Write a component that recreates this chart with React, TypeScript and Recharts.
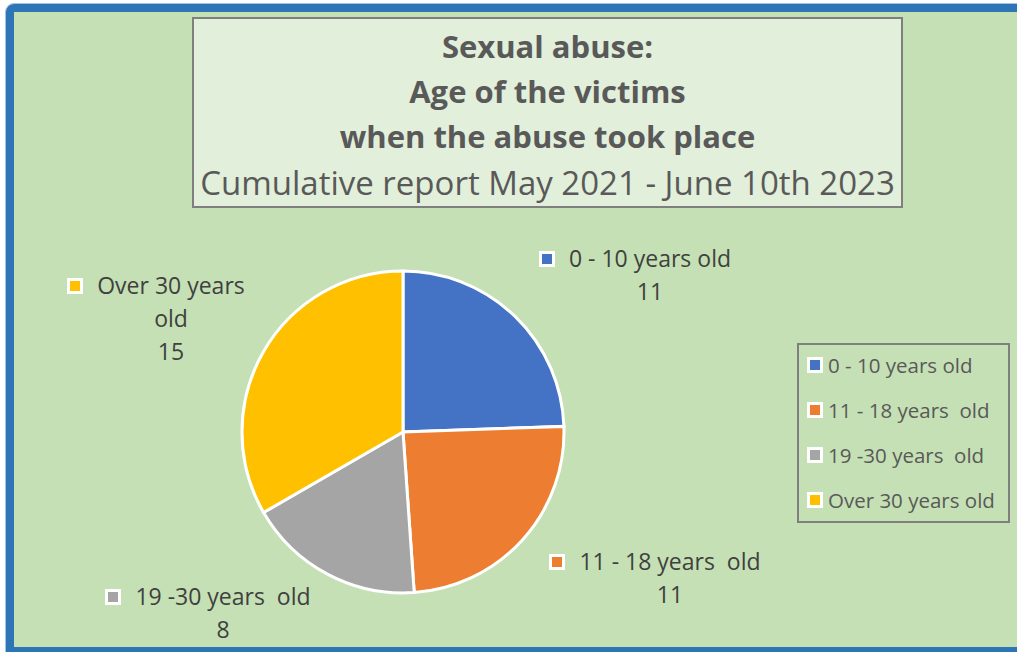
import React from "react";
import { PieChart, Pie, Cell, Legend } from "recharts";

const categories = ["0 - 10 years old", "11 - 18 years  old", "19 -30 years  old", "Over 30 years old"];
const values = [11, 11, 8, 15];
const colors = ["#4472c4", "#ed7d31", "#a5a5a5", "#ffc000"];
const labelLines = [["0 - 10 years old"], ["11 - 18 years  old"], ["19 -30 years  old"], ["Over 30 years", "old"]];
const titleBold = ["Sexual abuse:", "Age of the victims", "when the abuse took place"];
const subtitle = "Cumulative report May 2021 - June 10th 2023";

const data = categories.map((name, i) => ({ name, value: values[i] }));

// label placement (text-centre offset from pie centre, in px)
const labelLayout = [
  { dx: 247, dy: -174 },
  { dx: 267, dy: 129 },
  { dx: -180, dy: 164 },
  { dx: -232, dy: -147 },
];

const FONT = "'Open Sans', sans-serif";

const renderLabel = (props: any) => {
  const { cx, cy, index, value } = props;
  const lay = labelLayout[index];
  const w = 320;
  const lines = labelLines[index];
  const lh = 33;
  const h = lh * (lines.length + 1);
  const x = cx + lay.dx - w / 2;
  const y = cy + lay.dy - lh / 2;
  return (
    <foreignObject key={`lbl-${index}`} x={x} y={y} width={w} height={h} style={{ overflow: "visible" }}>
      <div
        style={{
          width: w,
          textAlign: "center",
          fontFamily: FONT,
          fontSize: 23,
          color: "#404040",
          lineHeight: `${lh}px`,
          whiteSpace: "pre",
        }}
      >
        {lines.map((ln, k) => (
          <div key={k}>
            <span style={{ position: "relative" }}>
              {k === 0 && (
                <span
                  style={{
                    position: "absolute",
                    left: -30,
                    top: "50%",
                    marginTop: -7,
                    width: 10,
                    height: 10,
                    border: "3px solid #fff",
                    background: colors[index],
                  }}
                />
              )}
              {ln}
            </span>
          </div>
        ))}
        <div>{value}</div>
      </div>
    </foreignObject>
  );
};

const renderLegend = (props: any) => {
  const payload = props.payload || [];
  return (
    <div
      style={{
        boxSizing: "border-box",
        width: 213,
        height: 180,
        border: "2px solid #7f7f7f",
        fontFamily: FONT,
        fontSize: 20.5,
        color: "#595959",
      }}
    >
      {payload.map((p: any, i: number) => (
        <div
          key={i}
          style={{
            position: "absolute",
            left: 10,
            top: 22 + i * 45 - 15,
            height: 30,
            display: "flex",
            alignItems: "center",
            whiteSpace: "pre",
          }}
        >
          <span
            style={{
              display: "inline-block",
              width: 10,
              height: 10,
              border: "3px solid #fff",
              background: p.color,
              marginRight: 5,
            }}
          />
          <span>{p.value}</span>
        </div>
      ))}
    </div>
  );
};

export default function App() {
  return (
    <div style={{ position: "fixed", left: 0, top: 0, width: 1017, height: 652, background: "#fff", overflow: "hidden" }}>
      <div
        style={{
          position: "absolute",
          left: 5,
          top: 3,
          width: 1040,
          height: 653,
          boxSizing: "border-box",
          border: "1px solid #9dc3e6",
          borderTopLeftRadius: 9,
        }}
      />
      <div
        style={{
          position: "absolute",
          left: 6,
          top: 4,
          width: 1040,
          height: 651,
          boxSizing: "border-box",
          border: "8px solid #2e75b6",
          borderTopLeftRadius: 8,
          background: "#c5e0b4",
        }}
      />
      <div
        style={{
          position: "absolute",
          left: 192,
          top: 17,
          width: 711,
          height: 191,
          boxSizing: "border-box",
          border: "2px solid #7f7f7f",
          background: "#e2efda",
          color: "#595959",
          fontFamily: FONT,
          textAlign: "center",
          paddingTop: 5,
        }}
      >
        {titleBold.map((t, i) => (
          <div key={i} style={{ fontWeight: 700, fontSize: 31, lineHeight: "45px" }}>
            {t}
          </div>
        ))}
        <div style={{ fontWeight: 400, fontSize: 33, lineHeight: "47px" }}>{subtitle}</div>
      </div>
      <div style={{ position: "absolute", left: 0, top: 0 }}>
        <PieChart width={1017} height={652} margin={{ top: 0, right: 0, bottom: 0, left: 0 }}>
          <Pie
            data={data}
            dataKey="value"
            nameKey="name"
            cx={403}
            cy={432}
            outerRadius={161}
            startAngle={90}
            endAngle={-270}
            stroke="#fff"
            strokeWidth={3}
            label={renderLabel}
            labelLine={false}
            isAnimationActive={false}
          >
            {data.map((d, i) => (
              <Cell key={d.name} fill={colors[i]} />
            ))}
          </Pie>
          <Legend
            content={renderLegend}
            wrapperStyle={{ position: "absolute", left: 797, top: 343, width: 213, height: 180 }}
          />
        </PieChart>
      </div>
    </div>
  );
}
